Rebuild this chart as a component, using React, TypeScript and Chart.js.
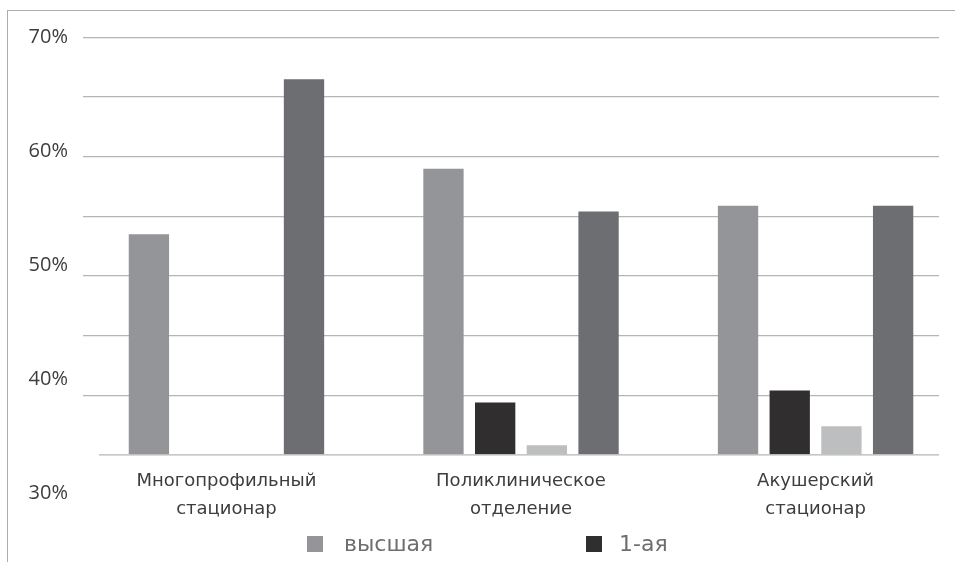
import { useEffect, useRef } from "react";
import { Chart, registerables } from "chart.js";

Chart.register(...registerables);

// Categories on the horizontal axis (two lines each)
const categories: string[][] = [
  ["Многопрофильный", "стационар"],
  ["Поликлиническое", "отделение"],
  ["Акушерский", "стационар"],
];

// Qualification groups
const seriesNames = ["высшая", "1-ая", "2-ая", "без категории"];
const seriesColors = ["#939598", "#302e2f", "#bcbec0", "#6d6e71"];

// Shares, %
const seriesHighest: (number | null)[] = [53.5, 59.0, 55.9];
const seriesFirst: (number | null)[] = [null, 39.4, 40.4];
const seriesSecond: (number | null)[] = [null, 35.8, 37.4];
const seriesNoCategory: (number | null)[] = [66.5, 55.4, 55.9];

// Percent labels on the left axis
const percentTicks = [30, 40, 50, 60, 70];

const axisBase = 35;

const FRAME_COLOR = "#adadad";
const GRID_COLOR = "#b5b5b5";
const TEXT_COLOR = "#3d3d3d";
const LEGEND_TEXT = "#6d6e71";
const CAT_FONT = "DejaVu Sans";

export default function App() {
  const ref = useRef<HTMLCanvasElement>(null);

  useEffect(() => {
    const canvas = ref.current;
    if (!canvas) return;

    const seriesValues = [seriesHighest, seriesFirst, seriesSecond, seriesNoCategory];
    const datasets = seriesValues.map((vals, s) => ({
      label: seriesNames[s],
      data: vals.map((v, i) => ({ x: i, y: v })),
      backgroundColor: seriesColors[s],
      borderWidth: 0,
      base: axisBase,
      categoryPercentage: 0.702,
      barPercentage: 0.78,
    }));

    const framePlugin = {
      id: "frame",
      beforeDraw(chart: any) {
        const { ctx } = chart;
        ctx.save();
        ctx.strokeStyle = FRAME_COLOR;
        ctx.lineWidth = 1;
        ctx.strokeRect(7.5, 10.5, chart.width + 40, chart.height + 40);
        ctx.restore();
      },
    };

    const baseLinePlugin = {
      id: "baseLine",
      afterDatasetsDraw(chart: any) {
        const { ctx, chartArea } = chart;
        const y = chart.scales.y.getPixelForValue(axisBase);
        ctx.save();
        ctx.strokeStyle = GRID_COLOR;
        ctx.lineWidth = 1.3;
        ctx.beginPath();
        ctx.moveTo(chartArea.left + 16, y);
        ctx.lineTo(chartArea.right, y);
        ctx.stroke();
        ctx.restore();
      },
    };

    const legendPlugin = {
      id: "bottomLegend",
      afterDraw(chart: any) {
        const { ctx } = chart;
        ctx.save();
        ctx.font = `22px "${CAT_FONT}"`;
        ctx.textBaseline = "alphabetic";
        ctx.textAlign = "left";
        chart.data.datasets.forEach((ds: any, i: number) => {
          const col = i % 2;
          const row = Math.floor(i / 2);
          const x = 307 + col * 279;
          const top = 536 + row * 36;
          ctx.fillStyle = ds.backgroundColor;
          ctx.fillRect(x, top, 16, 16);
          ctx.fillStyle = LEGEND_TEXT;
          ctx.fillText(ds.label, x + 37 - col * 4, top + 15);
        });
        ctx.restore();
      },
    };

    const chart = new Chart(canvas, {
      type: "bar",
      data: { datasets } as any,
      options: {
        responsive: false,
        animation: false,
        devicePixelRatio: 1,
        layout: { padding: { left: 0, right: 16, top: 37.5, bottom: 39 } },
        plugins: {
          legend: { display: false },
          tooltip: { enabled: false },
        },
        scales: {
          x: {
            type: "linear",
            min: -0.487,
            max: 2.419,
            offset: false,
            grid: { display: false, drawTicks: false, offset: false },
            border: { display: false },
            afterBuildTicks: (s: any) => {
              s.ticks = categories.map((_, i) => ({ value: i }));
            },
            afterFit: (s: any) => {
              s.height = 30;
            },
            ticks: {
              autoSkip: false,
              maxRotation: 0,
              minRotation: 0,
              mirror: true,
              padding: -2,
              color: TEXT_COLOR,
              font: { family: CAT_FONT, size: 18, lineHeight: "28px" },
              callback: (v: any) => categories[v as number],
            },
          },
          y: {
            type: "linear",
            position: "left",
            min: 31.8,
            max: 70,
            ticks: { display: false, stepSize: 5 },
            grid: {
              drawTicks: false,
              lineWidth: 1.3,
              color: (c: any) => (c.tick && c.tick.value >= 39.9 ? GRID_COLOR : "rgba(0,0,0,0)"),
            },
            border: { display: false },
            afterFit: (s: any) => {
              s.width = 0;
            },
          },
          yl: {
            type: "linear",
            position: "left",
            min: percentTicks[0],
            max: percentTicks[percentTicks.length - 1],
            afterBuildTicks: (s: any) => {
              s.ticks = percentTicks.map((v) => ({ value: v }));
            },
            ticks: {
              padding: 15,
              color: TEXT_COLOR,
              font: { family: "Open Sans", size: 20 },
              callback: (v: any) => `${v}%`,
            },
            grid: { display: false, drawTicks: false },
            border: { display: false },
            afterFit: (s: any) => {
              s.width = 83;
            },
          },
        } as any,
      },
      plugins: [framePlugin, baseLinePlugin, legendPlugin],
    });

    return () => chart.destroy();
  }, []);

  return (
    <div
      style={{
        position: "fixed",
        left: 0,
        top: 0,
        width: 955,
        height: 562,
        overflow: "hidden",
        background: "#ffffff",
      }}
    >
      <canvas ref={ref} width={955} height={562} style={{ display: "block" }} />
    </div>
  );
}
